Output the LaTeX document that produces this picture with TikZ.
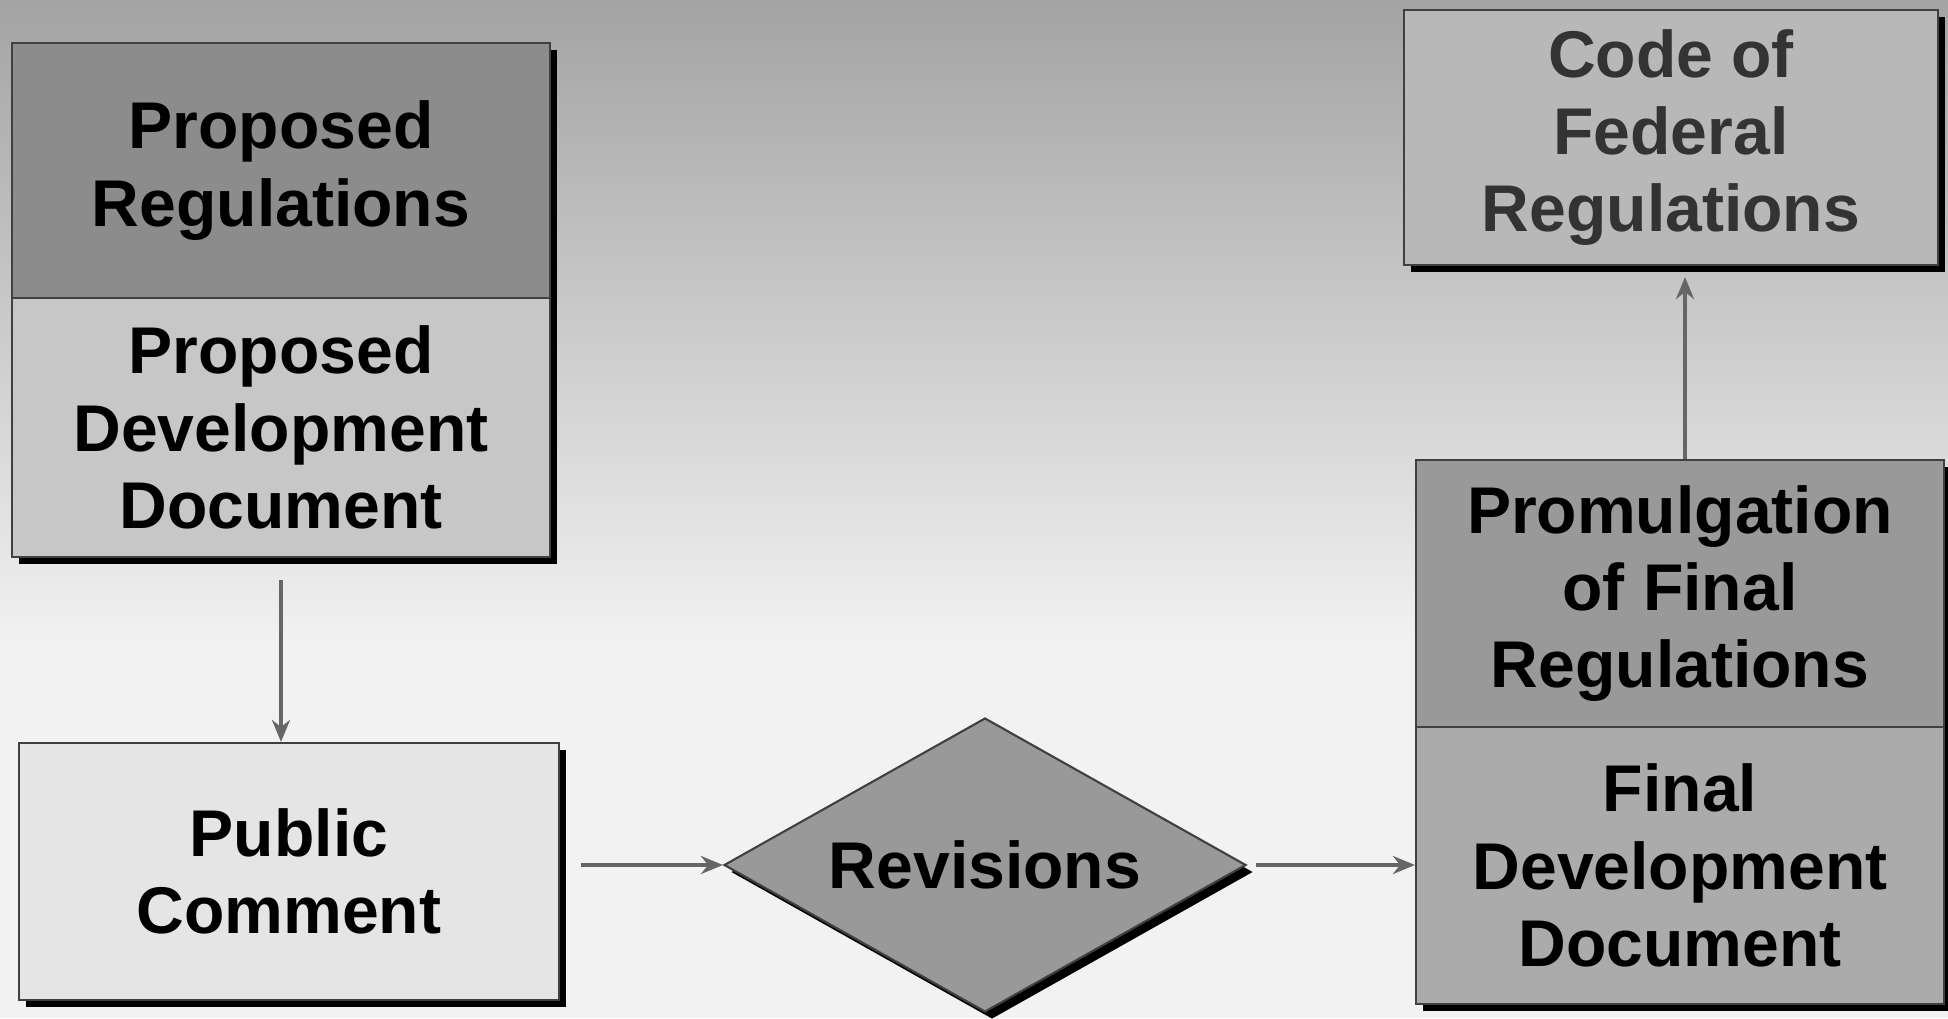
\documentclass[tikz,border=0pt]{standalone}
\usepackage{fontspec}
\setmainfont{Liberation Sans}
\usetikzlibrary{shapes.geometric}
\usetikzlibrary{shadows}
\usetikzlibrary{arrows.meta}
\tikzset{
    boxnode/.style = {rectangle, draw=black!75, line width=0.6pt, align=center, inner sep=0pt,
        font=\bfseries\fontsize{18.8}{22}\selectfont,
        drop shadow={shadow xshift=0.07cm, shadow yshift=-0.07cm, fill=black, opacity=1}},
    diamnode/.style = {diamond, shape aspect=1.78, draw=black!75, line width=0.6pt, align=center, inner sep=0pt, fill=black!40,
        font=\bfseries\fontsize{18.8}{22}\selectfont,
        drop shadow={shadow xshift=0.07cm, shadow yshift=-0.07cm, fill=black, opacity=1}},
    arr/.style = {-{Stealth[length=2.2mm,width=1.8mm]}, line width=1.1pt, draw=black!60},
}

\begin{document}
\begin{tikzpicture}
% background
\fill[black!5] (0,0) rectangle (19.48,3.7);
\shade[top color=black!36, bottom color=black!5] (0,3.68) rectangle (19.48,10.18);
\useasboundingbox (0,0) rectangle (19.48,10.18);
%
\node[boxnode, fill=black!45, minimum width=5.38cm, minimum height=2.55cm] at (2.81,8.475) (propreg) {Proposed\\Regulations};
\node[boxnode, fill=black!22, minimum width=5.38cm, minimum height=2.59cm] at (2.81,5.905) (propdev) {Proposed\\Development\\Document};
\node[boxnode, fill=black!10, minimum width=5.40cm, minimum height=2.57cm] at (2.89,1.465) (public) {Public\\Comment};
\node[diamnode, minimum width=5.22cm, minimum height=2.94cm] at (9.85,1.53) (revisions) {Revisions};
\node[boxnode, fill=black!40, minimum width=5.28cm, minimum height=2.67cm] at (16.80,4.245) (promul) {Promulgation\\of Final\\Regulations};
\node[boxnode, fill=black!33, minimum width=5.28cm, minimum height=2.77cm] at (16.80,1.525) (finaldev) {Final\\Development\\Document};
\node[boxnode, fill=black!28, text=black!80, minimum width=5.34cm, minimum height=2.55cm] at (16.71,8.805) (cfr) {Code of\\Federal\\Regulations};
%
\draw[arr, shorten <=0.22cm] (propdev.south) -- (propdev.south |- public.north);
\draw[arr, shorten <=0.21cm] (public.east |- revisions.west) -- (revisions.west);
\draw[arr, shorten <=0.09cm] (revisions.east) -- (revisions.east -| finaldev.west);
\draw[arr, shorten >=0.11cm] (promul.north -| 16.85,0) -- (16.85,0 |- cfr.south);
\end{tikzpicture}
\end{document}
